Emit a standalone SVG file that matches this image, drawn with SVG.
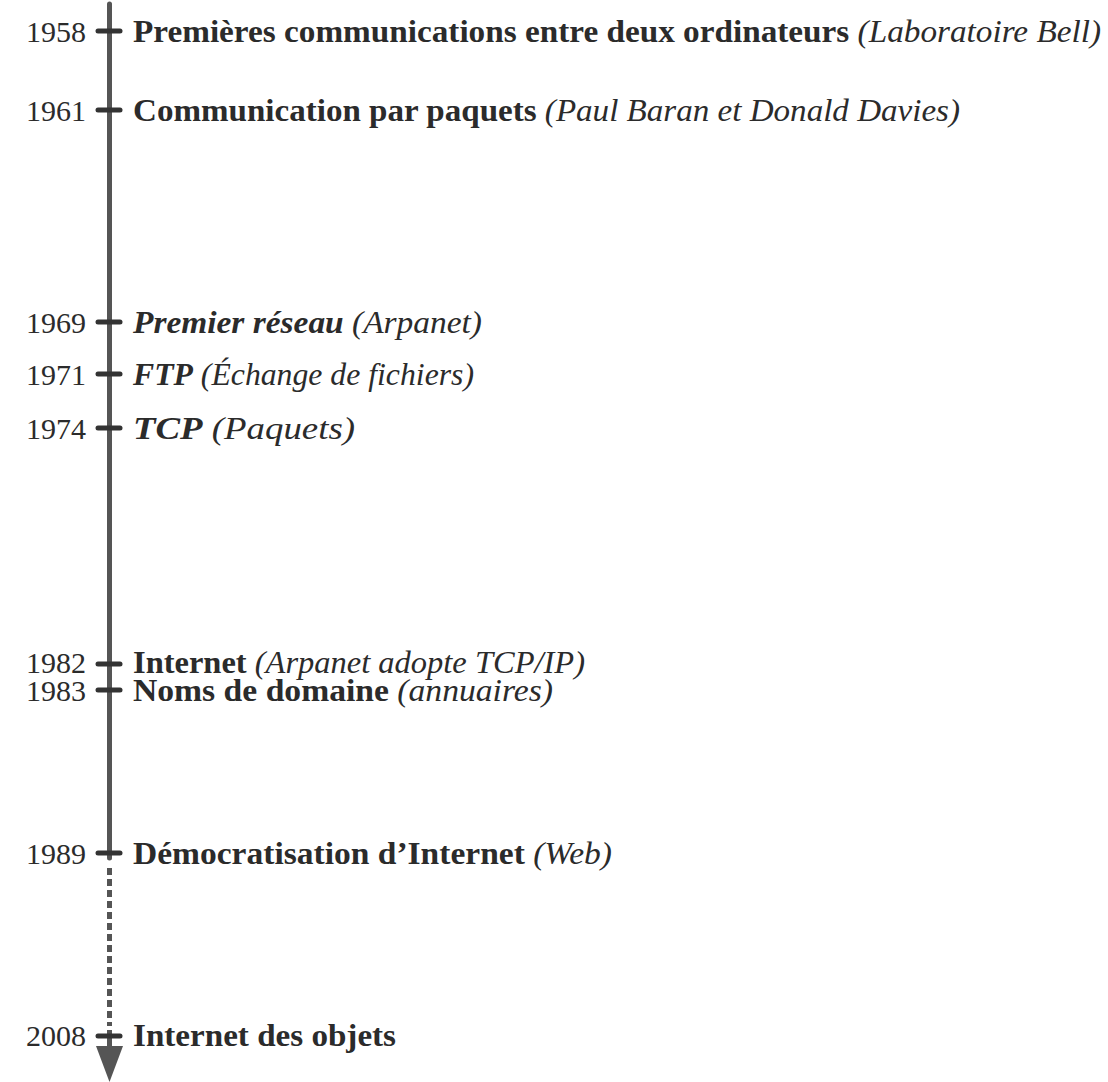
<svg xmlns="http://www.w3.org/2000/svg" width="1108" height="1082" viewBox="0 0 1108 1082">
<style>
text{font-family:"Liberation Serif","DejaVu Serif",serif;font-size:31px;fill:#2b2b2b}
.yr{text-anchor:end;font-size:30px}
.b{font-weight:bold}
.i{font-style:italic}
.tick{stroke:#333;stroke-width:5;stroke-linecap:round}
.axis{stroke:#555;stroke-width:5;fill:none}
</style>
<rect width="1108" height="1082" fill="#fff"/>
<g id="connectors">
<line class="axis" x1="109.5" y1="4" x2="109.5" y2="858" stroke-linecap="round"/>
<line class="axis" x1="109.5" y1="868" x2="109.5" y2="1026" stroke-dasharray="7 4" stroke-linecap="butt" stroke-width="4.5"/>
<line class="axis" x1="109.5" y1="1030" x2="109.5" y2="1050"/>
<polygon points="96,1046 123,1046 109.5,1082" fill="#555"/>
</g>
<g id="n1958"><line class="tick" x1="98" y1="31" x2="120" y2="31"/><text class="yr" x="86" y="42">1958</text><text x="133" y="42" textLength="968" lengthAdjust="spacingAndGlyphs"><tspan class="b">Premières communications entre deux ordinateurs</tspan> <tspan class="i">(Laboratoire Bell)</tspan></text></g>
<g id="n1961"><line class="tick" x1="98" y1="110" x2="120" y2="110"/><text class="yr" x="86" y="121">1961</text><text x="133" y="121" textLength="827" lengthAdjust="spacingAndGlyphs"><tspan class="b">Communication par paquets</tspan> <tspan class="i">(Paul Baran et Donald Davies)</tspan></text></g>
<g id="n1969"><line class="tick" x1="98" y1="322" x2="120" y2="322"/><text class="yr" x="86" y="333">1969</text><text x="133" y="333" textLength="349" lengthAdjust="spacingAndGlyphs"><tspan class="b i">Premier réseau</tspan> <tspan class="i">(Arpanet)</tspan></text></g>
<g id="n1971"><line class="tick" x1="98" y1="374" x2="120" y2="374"/><text class="yr" x="86" y="385">1971</text><text x="133" y="385" textLength="341" lengthAdjust="spacingAndGlyphs"><tspan class="b i">FTP</tspan> <tspan class="i">(Échange de fichiers)</tspan></text></g>
<g id="n1974"><line class="tick" x1="98" y1="428" x2="120" y2="428"/><text class="yr" x="86" y="439">1974</text><text x="133" y="439" textLength="222" lengthAdjust="spacingAndGlyphs"><tspan class="b i">TCP</tspan> <tspan class="i">(Paquets)</tspan></text></g>
<g id="n1982"><line class="tick" x1="98" y1="664" x2="120" y2="664"/><text class="yr" x="86" y="673">1982</text><text x="133" y="673" textLength="452" lengthAdjust="spacingAndGlyphs"><tspan class="b">Internet</tspan> <tspan class="i">(Arpanet adopte TCP/IP)</tspan></text></g>
<g id="n1983"><line class="tick" x1="98" y1="690" x2="120" y2="690"/><text class="yr" x="86" y="701">1983</text><text x="133" y="701" textLength="420" lengthAdjust="spacingAndGlyphs"><tspan class="b">Noms de domaine</tspan> <tspan class="i">(annuaires)</tspan></text></g>
<g id="n1989"><line class="tick" x1="98" y1="853" x2="120" y2="853"/><text class="yr" x="86" y="864">1989</text><text x="133" y="864" textLength="479" lengthAdjust="spacingAndGlyphs"><tspan class="b">Démocratisation d’Internet</tspan> <tspan class="i">(Web)</tspan></text></g>
<g id="n2008"><line class="tick" x1="98" y1="1036" x2="120" y2="1036"/><text class="yr" x="86" y="1046">2008</text><text x="133" y="1046" textLength="263" lengthAdjust="spacingAndGlyphs"><tspan class="b">Internet des objets</tspan></text></g>
</svg>
